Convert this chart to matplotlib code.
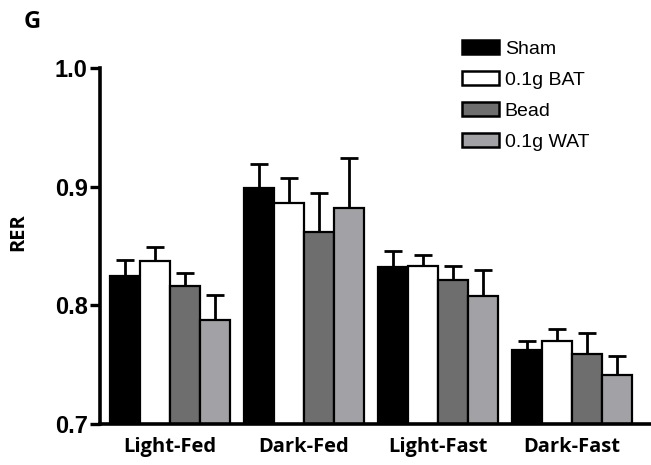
import numpy as np
import matplotlib
matplotlib.use("Agg")
import matplotlib.pyplot as plt
from matplotlib.patches import Patch
from matplotlib.transforms import ScaledTranslation

categories = ["Light-Fed", "Dark-Fed", "Light-Fast", "Dark-Fast"]
series_names = ["Sham", "0.1g BAT", "Bead", "0.1g WAT"]
sham = [0.825, 0.899, 0.832, 0.762]
bat = [0.837, 0.886, 0.833, 0.770]
bead = [0.816, 0.862, 0.821, 0.759]
wat = [0.788, 0.882, 0.808, 0.741]
sham_err = [0.013, 0.020, 0.014, 0.008]
bat_err = [0.012, 0.021, 0.009, 0.010]
bead_err = [0.011, 0.033, 0.012, 0.018]
wat_err = [0.021, 0.042, 0.022, 0.016]
yticks = [0.7, 0.8, 0.9, 1.0]

colors = ["#000000", "#ffffff", "#6e6e6e", "#a2a2a6"]
values = [sham, bat, bead, wat]
errors = [sham_err, bat_err, bead_err, wat_err]

fig = plt.figure(figsize=(6.51, 4.65), dpi=100)
ax = fig.add_axes([100/651, 1-424/465, 1-100/651, (424-68)/465])

x = np.arange(len(categories))
w = 0.224
for i, (vals, errs, c) in enumerate(zip(values, errors, colors)):
    pos = x + (i - 1.5) * w
    ax.bar(pos, vals, width=w, bottom=0, color=c, edgecolor="black",
           linewidth=1.6, zorder=2)
    ax.errorbar(pos, vals, yerr=[np.zeros(len(errs)), errs], fmt="none",
                ecolor="black", elinewidth=2.0, capsize=6.5, capthick=2.0,
                zorder=1)

ax.set_ylim(0.7, 1.0)
ax.set_xlim(-0.52, 3.59)
ax.set_yticks(yticks)
ax.set_yticklabels([f"{t:.1f}" for t in yticks], fontfamily="Liberation Sans",
                   fontweight="bold", fontsize=17)
ax.set_xticks(x)
ax.set_xticklabels(categories, fontfamily="Open Sans", fontweight="bold",
                   fontsize=14.5)
# hand-placed label offsets seen in the original (pixels)
label_shift_px = [-7, 0, -12, -14]
for lab, dx in zip(ax.get_xticklabels(), label_shift_px):
    lab.set_transform(lab.get_transform() +
                      ScaledTranslation(dx / 100, 0, fig.dpi_scale_trans))
ax.tick_params(axis="x", length=0, pad=9)
ax.tick_params(axis="y", length=7, width=2.4, pad=2, direction="out")
for s in ["top", "right"]:
    ax.spines[s].set_visible(False)
for s in ["left", "bottom"]:
    ax.spines[s].set_linewidth(2.6)
ax.spines["left"].set_zorder(3)
ax.spines["bottom"].set_zorder(3)

fig.text(18/651, 1-232/465, "RER", rotation=90, ha="center", va="center",
         fontfamily="Open Sans", fontweight="bold", fontsize=14.5)
fig.text(24/651, 1-22/465, "G", ha="left", va="center",
         fontfamily="Open Sans", fontweight="bold", fontsize=17)

handles = [Patch(facecolor=c, edgecolor="black", linewidth=1.8) for c in colors]
ax.legend(handles, series_names, loc="upper left",
          bbox_to_anchor=(462/651, 1-40/465), bbox_transform=fig.transFigure,
          frameon=False, borderpad=0, borderaxespad=0, handlelength=1.9,
          handleheight=0.77, handletextpad=0.3, labelspacing=0.66,
          prop={"family": "Liberation Sans", "size": 14})

fig.savefig("out.png", dpi=100)
